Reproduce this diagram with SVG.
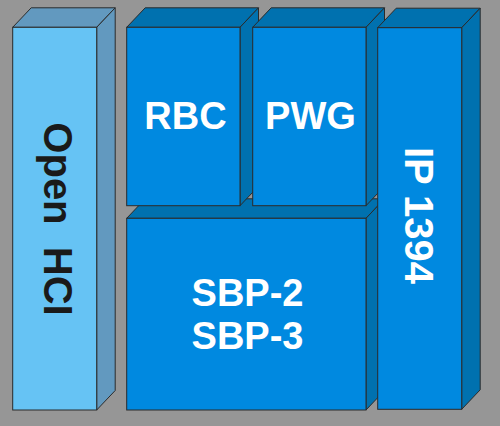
<svg xmlns="http://www.w3.org/2000/svg" width="500" height="426" viewBox="0 0 500 426">
<style>
.ln{stroke:#2b2b2b;stroke-width:1;stroke-linejoin:miter}
.lf{fill:#66c3f4}
.ls{fill:#6299bf}
.bf{fill:#0089e0}
.bs{fill:#0071af}
.t{font-family:"Liberation Sans",Arial,sans-serif;font-weight:bold;font-size:40px;text-anchor:middle}
.h{font-size:38px}
.w{fill:#ffffff}
.k{fill:#1a1a1a}
</style>
<rect x="0" y="0" width="500" height="426" fill="#969696"/>
<g id="open-hci">
<polygon class="ls ln" points="12.7,27.3 31.2,7.8 115.2,7.8 96.7,27.3"/>
<polygon class="ls ln" points="96.7,27.3 115.2,7.8 115.2,390.5 96.7,410"/>
<rect class="lf ln" x="12.7" y="27.3" width="84" height="382.7"/>
<text class="t k" transform="translate(44,219) rotate(90)" xml:space="preserve">Open  HCI</text>
</g>
<g id="sbp">
<polygon class="bs ln" points="126.7,218.3 145.2,198.8 384.5,198.8 366,218.3"/>
<polygon class="bs ln" points="366,218.3 384.5,198.8 384.5,390.5 366,410"/>
<rect class="bf ln" x="126.7" y="218.3" width="239.3" height="191.7"/>
<text class="t h w" x="247.5" y="306">SBP-2</text>
<text class="t h w" x="247.5" y="349.3">SBP-3</text>
</g>
<g id="rbc">
<polygon class="bs ln" points="126.7,27.3 145.2,7.8 258.5,7.8 240,27.3"/>
<polygon class="bs ln" points="240,27.3 258.5,7.8 258.5,186.2 240,205.7"/>
<rect class="bf ln" x="126.7" y="27.3" width="113.3" height="178.4"/>
<text class="t h w" x="185.5" y="128.5">RBC</text>
</g>
<g id="pwg">
<polygon class="bs ln" points="252.7,27.3 271.2,7.8 384.5,7.8 366,27.3"/>
<polygon class="bs ln" points="366,27.3 384.5,7.8 384.5,186.2 366,205.7"/>
<rect class="bf ln" x="252.7" y="27.3" width="113.3" height="178.4"/>
<text class="t h w" x="310.5" y="128.5">PWG</text>
</g>
<g id="ip1394">
<polygon class="bs ln" points="377.7,27.7 396.2,8.2 480.2,8.2 461.7,27.7"/>
<polygon class="bs ln" points="461.7,27.7 480.2,8.2 480.2,389.8 461.7,409.3"/>
<rect class="bf ln" x="377.7" y="27.7" width="84" height="381.6"/>
<text class="t w" transform="translate(405,215.5) rotate(90)">IP 1394</text>
</g>
<g id="connectors"></g>
</svg>
